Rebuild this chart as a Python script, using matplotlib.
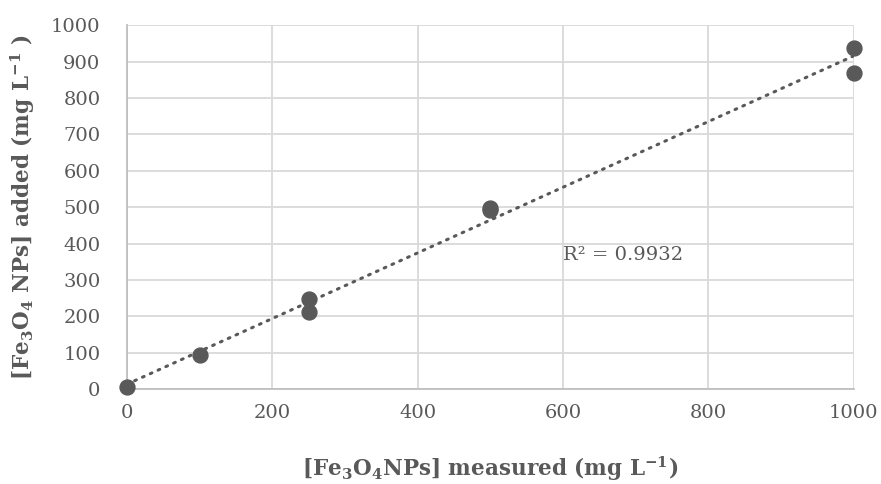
import numpy as np
import matplotlib.pyplot as plt

plt.rcParams['font.family'] = 'DejaVu Serif'
plt.rcParams['mathtext.default'] = 'regular'

# measured vs added concentrations (mg/L)
measured = [0, 100, 250, 250, 500, 500, 1000, 1000]
added = [5, 95, 248, 211, 497, 493, 938, 868]
x_ticks = [0, 200, 400, 600, 800, 1000]
y_ticks = list(range(0, 1001, 100))

grey = '#595959'

fig = plt.figure(figsize=(8.81, 4.84), dpi=100)
ax = fig.add_axes([0.144, 0.196, 0.825, 0.752])

# linear trendline over the data
xa = np.array(measured, dtype=float)
ya = np.array(added, dtype=float)
slope, intercept = np.polyfit(xa, ya, 1)
pred = slope * xa + intercept
r2 = 1 - np.sum((ya - pred) ** 2) / np.sum((ya - ya.mean()) ** 2)
xl = np.array([0, 1000])
ax.plot(xl, slope * xl + intercept, color=grey, lw=2.2, ls=(0, (0.6, 2.2)),
        dash_capstyle='round', zorder=3)

ax.scatter(measured, added, s=115, color=grey, zorder=4, clip_on=False)

ax.text(600, 368, f'R² = {r2:.4f}', color=grey, fontsize=14, va='center', ha='left')

ax.set_xlim(0, 1000)
ax.set_ylim(0, 1000)
ax.set_xticks(x_ticks)
ax.set_yticks(y_ticks)
ax.grid(True, color='#d9d9d9', lw=1.3)
ax.set_axisbelow(True)
for s in ['top', 'right']:
    ax.spines[s].set_visible(False)
for s in ['left', 'bottom']:
    ax.spines[s].set_color('#bfbfbf')
    ax.spines[s].set_linewidth(1.3)
ax.tick_params(length=0, labelsize=14, labelcolor=grey)
ax.tick_params(axis='x', pad=11)
ax.tick_params(axis='y', pad=19)

ax.set_xlabel(r'[Fe$_3$O$_4$NPs] measured (mg L$^{-1}$)', fontsize=15.5,
              fontweight='bold', color=grey, labelpad=23)
ax.set_ylabel(r'[Fe$_3$O$_4$ NPs] added (mg L$^{-1}$ )', fontsize=15.5,
              fontweight='bold', color=grey, labelpad=10)

fig.savefig('out.png', dpi=100)
